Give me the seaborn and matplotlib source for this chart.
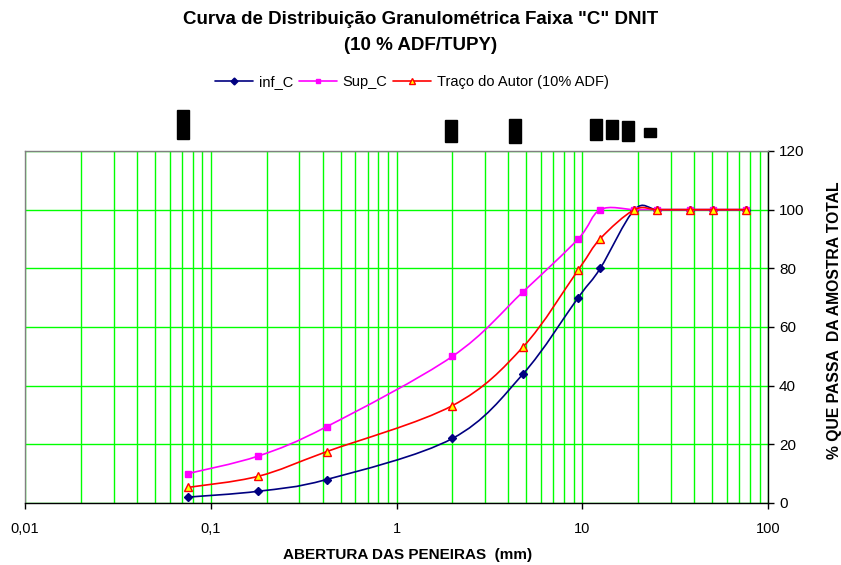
import numpy as np
import matplotlib
matplotlib.use("Agg")
import matplotlib.pyplot as plt
import seaborn as sns
from matplotlib.path import Path
from matplotlib.patches import PathPatch, Rectangle
from matplotlib.lines import Line2D
from matplotlib.ticker import FixedLocator, FixedFormatter, LogLocator, NullFormatter

# Sieve openings (mm) and percent passing for each curve
peneiras_mm = [0.075, 0.18, 0.42, 2.0, 4.8, 9.5, 12.5, 19.1, 25.4, 38.1, 50.8, 76.2]
inf_c = [2, 4, 8, 22, 44, 70, 80, 100, 100, 100, 100, 100]
sup_c = [10, 16, 26, 50, 72, 90, 100, 100, 100, 100, 100, 100]
traco_autor = [5.3, 9.1, 17.5, 33.2, 53.2, 79.4, 90.1, 100, 100, 100, 100, 100]

serie_nomes = ["inf_C", "Sup_C", "Traço do Autor (10% ADF)"]
x_ticks = [0.01, 0.1, 1, 10, 100]
x_tick_labels = ["0,01", "0,1", "1", "10", "100"]
y_ticks = [0, 20, 40, 60, 80, 100, 120]

sns.set_theme(style="white")
plt.rcParams["font.family"] = ["Liberation Sans", "DejaVu Sans"]
plt.rcParams.update({"text.color": "black", "axes.labelcolor": "black",
                     "xtick.color": "black", "ytick.color": "black"})

W, H = 841, 565
fig = plt.figure(figsize=(W / 100, H / 100), dpi=100)
ax = fig.add_axes([25 / W, 1 - 503 / H, (768 - 25) / W, (503 - 151) / H])


def smooth_path(x, y):
    """Catmull-Rom style Bezier through the points, in log-x / linear-y space."""
    pts = np.column_stack([np.log10(np.asarray(x, float)), np.asarray(y, float)])
    n = len(pts)
    verts = [pts[0]]
    codes = [Path.MOVETO]
    for i in range(n - 1):
        p0 = pts[max(i - 1, 0)]
        p1 = pts[i]
        p2 = pts[i + 1]
        p3 = pts[min(i + 2, n - 1)]
        c1 = p1 + (p2 - p0) / 6.0
        c2 = p2 - (p3 - p1) / 6.0
        verts += [c1, c2, p2]
        codes += [Path.CURVE4] * 3
    verts = np.array(verts)
    verts[:, 0] = 10 ** verts[:, 0]
    return Path(verts, codes)


estilos = [
    dict(y=inf_c, color="#000080", marker="D", ms=4.5, mfc="#000080", mec="#000080"),
    dict(y=sup_c, color="#FF00FF", marker="s", ms=4.5, mfc="#FF00FF", mec="#FF00FF"),
    dict(y=traco_autor, color="#FF0000", marker="^", ms=6, mfc="#FFFF00", mec="#FF0000"),
]

handles = []
for k, (nome, st) in enumerate(zip(serie_nomes, estilos)):
    z = 3 + k
    ax.add_patch(PathPatch(smooth_path(peneiras_mm, st["y"]), facecolor="none",
                           edgecolor=st["color"], lw=1.2, zorder=z))
    sns.lineplot(x=peneiras_mm, y=st["y"], ax=ax, linestyle="", marker=st["marker"],
                 markersize=st["ms"], markerfacecolor=st["mfc"], markeredgecolor=st["mec"],
                 markeredgewidth=1.0, color=st["color"], legend=False, zorder=z + 0.5)
    handles.append(Line2D([], [], color=st["color"], lw=1.2, marker=st["marker"],
                          markersize=st["ms"] - 1, markerfacecolor=st["mfc"],
                          markeredgecolor=st["mec"], label=nome))

ax.set_xscale("log")
ax.set_xlim(0.01, 100)
ax.set_ylim(0, 120)

ax.xaxis.set_major_locator(FixedLocator(x_ticks))
ax.xaxis.set_major_formatter(FixedFormatter(x_tick_labels))
ax.xaxis.set_minor_locator(LogLocator(base=10, subs=np.arange(2, 10)))
ax.xaxis.set_minor_formatter(NullFormatter())
ax.yaxis.set_major_locator(FixedLocator(y_ticks))

ax.yaxis.tick_right()
ax.tick_params(axis="x", which="major", direction="out", length=4, width=1,
               color="black", labelsize=10.5, pad=10, bottom=True)
ax.tick_params(axis="x", which="minor", length=0)
ax.tick_params(axis="y", which="major", direction="out", length=4, width=1,
               color="black", labelsize=11, pad=4, right=True, left=False)

ax.grid(True, axis="x", which="both", color="#00FF00", lw=1.0, zorder=0)
ax.grid(True, axis="y", which="major", color="#00FF00", lw=1.0, zorder=0)
ax.set_axisbelow(True)

for side in ["top", "left"]:
    ax.spines[side].set_color("#808080")
    ax.spines[side].set_linewidth(1.0)
for side in ["bottom", "right"]:
    ax.spines[side].set_color("black")
    ax.spines[side].set_linewidth(1.0)

ax.set_xlabel("ABERTURA DAS PENEIRAS  (mm)", fontsize=11, fontweight="bold")
ax.xaxis.set_label_coords((408 - 25) / 743, -(548 - 503) / 352)
ax.set_ylabel("% QUE PASSA  DA AMOSTRA TOTAL", fontsize=11.3, fontweight="bold",
              rotation=90)
ax.yaxis.set_label_position("right")
ax.yaxis.set_label_coords((827 - 25) / 743, (503 - 320) / 352)

fig.text(421 / W, 1 - 20 / H, 'Curva de Distribuição Granulométrica Faixa "C" DNIT',
         ha="center", va="center", fontsize=13.5, fontweight="bold")
fig.text(421 / W, 1 - 45 / H, "(10 % ADF/TUPY)",
         ha="center", va="center", fontsize=13.5, fontweight="bold")

fig.legend(handles=handles, loc="center", bbox_to_anchor=(412 / W, 1 - 82 / H), ncol=3,
           frameon=False, fontsize=10.5, handlelength=2.6, columnspacing=0.4,
           handletextpad=0.4)

# dark label boxes above the chart area
caixas = [(177, 110, 12, 29), (445, 120, 12, 22), (509, 119, 12, 24), (590, 119, 12, 21),
          (606, 120, 12, 19), (622, 121, 12, 20), (644, 128, 12, 9)]
for (bx, by, bw, bh) in caixas:
    fig.patches.append(Rectangle((bx / W, 1 - (by + bh) / H), bw / W, bh / H,
                                 transform=fig.transFigure, color="black", zorder=5))

fig.savefig("out.png", dpi=100)
